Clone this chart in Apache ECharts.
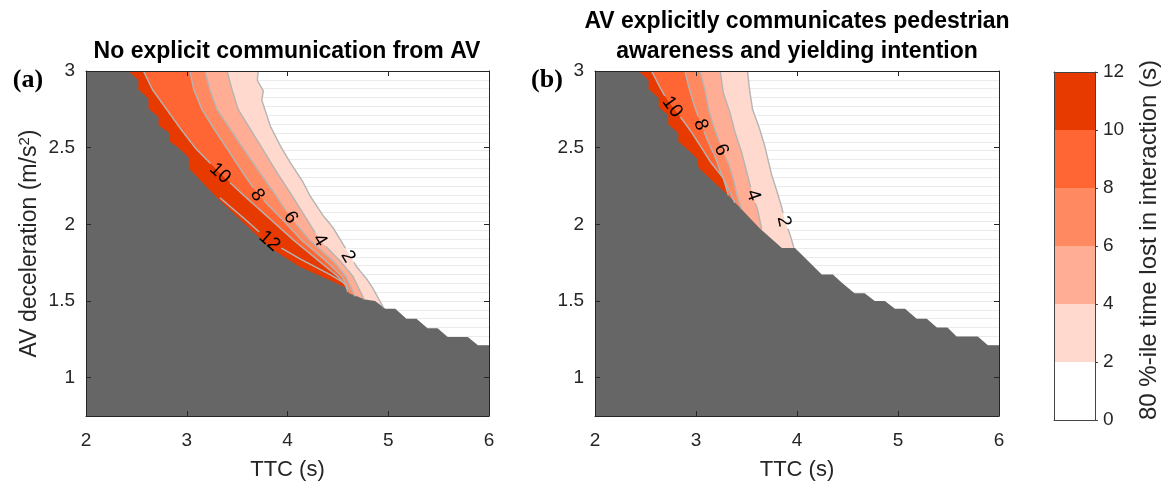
<!DOCTYPE html>
<html>
<head>
<meta charset="utf-8">
<script src="https://cdn.jsdelivr.net/npm/echarts@6/dist/echarts.min.js"></script>
<style>
html, body { margin: 0; padding: 0; background: #fff; }
#chart { width: 1166px; height: 486px; }
</style>
</head>
<body>
<div id="chart"></div>
<script>
// contour levels (s) and fill colours for the band above each level
var levels = [2, 4, 6, 8, 10, 12];
var bandColors = ['#FFD9CE', '#FFAD94', '#FF8A62', '#FF6633', '#E63A00'];
var barLevels = [0, 2, 4, 6, 8, 10];
var barColors = ['#FFFFFF', '#FFD9CE', '#FFAD94', '#FF8A62', '#FF6633', '#E63A00'];
var yTicks = [1, 1.5, 2, 2.5, 3];

//===== (a) no explicit communication =====
var grayA = [[2.42,3],[2.52,2.94],[2.52,2.88],[2.62,2.82],[2.62,2.755],[2.72,2.70],[2.72,2.647],[2.83,2.594],[2.83,2.54],[2.92,2.498],[3.02,2.434],[3.02,2.38],[3.03,2.36],[3.33,2.154],[3.58,2.00],[3.83,1.846],[4.12,1.724],[4.42,1.635],[4.57,1.59],[4.61,1.551],[4.77,1.51],[4.87,1.50],[4.97,1.45],[5.07,1.45],[5.18,1.385],[5.28,1.385],[5.39,1.322],[5.49,1.322],[5.59,1.265],[5.79,1.265],[5.89,1.212],[6,1.212]];
var lineA2 = [[3.71,3],[3.70,2.94],[3.76,2.87],[3.745,2.81],[3.83,2.64],[3.93,2.51],[4.03,2.40],[4.15,2.28],[4.22,2.19],[4.35,2.06],[4.45,1.98],[4.57,1.85],[4.69,1.72],[4.79,1.64],[4.85,1.58],[4.95,1.46]];
var lineA4 = [[3.40,3],[3.45,2.878],[3.51,2.75],[3.63,2.622],[3.75,2.494],[3.90,2.333],[4.04,2.192],[4.18,2.045],[4.32,1.897],[4.53,1.756],[4.65,1.66],[4.76,1.51]];
var lineA6 = [[3.18,3],[3.23,2.878],[3.30,2.75],[3.43,2.622],[3.56,2.494],[3.73,2.333],[3.88,2.192],[4.03,2.045],[4.22,1.897],[4.46,1.756],[4.58,1.66],[4.67,1.53]];
var lineA8 = [[3.03,3],[3.07,2.878],[3.15,2.75],[3.27,2.622],[3.40,2.494],[3.56,2.333],[3.71,2.192],[3.93,2.045],[4.14,1.897],[4.39,1.756],[4.54,1.66],[4.61,1.57]];
var lineA10 = [[2.57,3],[2.66,2.878],[2.80,2.75],[2.94,2.622],[3.09,2.494],[3.33,2.333],[3.56,2.192],[3.81,2.045],[4.06,1.897],[4.32,1.756],[4.50,1.66],[4.58,1.60]];
var lineA12 = [[3.33,2.173],[3.58,2.032],[3.82,1.891],[4.12,1.776],[4.42,1.673],[4.57,1.615],[4.60,1.558]];
var labelsA = [[10,3.33,2.333],[8,3.70,2.19],[6,4.03,2.045],[4,4.32,1.897],[2,4.60,1.79],[12,3.82,1.89]];

//===== (b) explicit communication =====
var grayB = [[2.43,3],[2.53,2.942],[2.53,2.883],[2.63,2.825],[2.63,2.765],[2.725,2.712],[2.725,2.652],[2.825,2.594],[2.825,2.54],[2.92,2.487],[3.02,2.423],[3.02,2.38],[3.04,2.359],[3.335,2.179],[3.63,1.974],[3.85,1.846],[3.98,1.846],[4.245,1.673],[4.355,1.673],[4.45,1.615],[4.57,1.551],[4.67,1.551],[4.77,1.50],[4.87,1.50],[4.97,1.449],[5.07,1.449],[5.185,1.385],[5.285,1.385],[5.385,1.327],[5.49,1.327],[5.58,1.269],[5.79,1.269],[5.89,1.212],[6,1.212]];
var lineB2 = [[3.51,3],[3.53,2.878],[3.56,2.75],[3.63,2.622],[3.68,2.513],[3.71,2.429],[3.75,2.321],[3.80,2.218],[3.85,2.109],[3.88,2.019],[3.93,1.936],[3.97,1.846]];
var lineB4 = [[3.24,3],[3.27,2.859],[3.335,2.731],[3.385,2.603],[3.45,2.474],[3.50,2.346],[3.56,2.192],[3.61,2.096],[3.65,1.97]];
var lineB6 = [[3.04,3],[3.09,2.872],[3.13,2.737],[3.19,2.609],[3.26,2.487],[3.325,2.391],[3.375,2.282],[3.41,2.179],[3.45,2.10]];
var lineB8 = [[2.89,3],[2.93,2.891],[2.98,2.782],[3.05,2.647],[3.13,2.526],[3.20,2.423],[3.25,2.327],[3.31,2.244],[3.385,2.14]];
var lineB10 = [[2.56,3],[2.64,2.897],[2.70,2.827],[2.77,2.763],[2.87,2.679],[2.96,2.596],[3.06,2.494],[3.14,2.41],[3.27,2.301],[3.32,2.19]];
var labelsB = [[10,2.765,2.765],[8,3.045,2.649],[6,3.25,2.485],[4,3.566,2.19],[2,3.87,2.02]];

var X_MIN = 2, X_MAX = 6, Y_MIN = 0.75, Y_MAX = 3;
var axisColor = '#262626';
var sans = 'Liberation Sans, Arial, sans-serif';

function bandSeries(ax, lines) {
    return {
        type: 'custom', xAxisIndex: ax, yAxisIndex: ax, z: 2, clip: true, silent: true,
        data: lines.map(function (l, i) { return [l[0][0], l[0][1], i]; }),
        renderItem: function (params, api) {
            var line = lines[params.dataIndex];
            var last = line[line.length - 1];
            var pts = line.concat([[last[0], Y_MIN], [X_MIN, Y_MIN], [X_MIN, Y_MAX]]);
            return {
                type: 'polygon',
                shape: { points: pts.map(function (p) { return api.coord(p); }) },
                style: { fill: bandColors[params.dataIndex] }
            };
        }
    };
}

function graySeries(ax, edge) {
    return {
        type: 'custom', xAxisIndex: ax, yAxisIndex: ax, z: 3, clip: true, silent: true,
        data: [[edge[0][0], edge[0][1]]],
        renderItem: function (params, api) {
            var pts = edge.concat([[X_MAX, Y_MIN], [X_MIN, Y_MIN], [X_MIN, Y_MAX]]);
            return {
                type: 'polygon',
                shape: { points: pts.map(function (p) { return api.coord(p); }) },
                style: { fill: '#666666' }
            };
        }
    };
}

// contour lines, broken where their labels sit (like MATLAB clabel)
function contourSeries(ax, lines, labels) {
    return {
        type: 'custom', xAxisIndex: ax, yAxisIndex: ax, z: 4, clip: true, silent: true,
        data: lines.map(function (l) { return [l[0][0], l[0][1]]; }),
        renderItem: function (params, api) {
            var lvl = levels[params.dataIndex];
            var pts = lines[params.dataIndex].map(function (p) { return api.coord(p); });
            var holes = labels.filter(function (l) { return l[0] === lvl; }).map(function (l) {
                var c = api.coord([l[1], l[2]]);
                return [c[0], c[1], String(l[0]).length > 1 ? 13 : 8];
            });
            var pieces = [], cur = [];
            for (var k = 0; k < pts.length - 1; k++) {
                var a = pts[k], b = pts[k + 1];
                var n = Math.max(1, Math.ceil(Math.sqrt((b[0] - a[0]) * (b[0] - a[0]) + (b[1] - a[1]) * (b[1] - a[1]))));
                for (var s = (k === 0 ? 0 : 1); s <= n; s++) {
                    var q = [a[0] + (b[0] - a[0]) * s / n, a[1] + (b[1] - a[1]) * s / n];
                    var hit = holes.some(function (h) {
                        return (q[0] - h[0]) * (q[0] - h[0]) + (q[1] - h[1]) * (q[1] - h[1]) < h[2] * h[2];
                    });
                    if (hit) { if (cur.length > 1) pieces.push(cur); cur = []; }
                    else cur.push(q);
                }
            }
            if (cur.length > 1) pieces.push(cur);
            return {
                type: 'group',
                children: pieces.map(function (pc) {
                    return { type: 'polyline', shape: { points: pc },
                             style: { stroke: '#b4b4b4', lineWidth: 1.4, fill: null } };
                })
            };
        }
    };
}

function labelSeries(ax, lines, labels) {
    return {
        type: 'custom', xAxisIndex: ax, yAxisIndex: ax, z: 5, clip: false, silent: true,
        data: labels.map(function (l) { return [l[1], l[2]]; }),
        renderItem: function (params, api) {
            var lab = labels[params.dataIndex];
            var line = lines[levels.indexOf(lab[0])];
            var p = api.coord([lab[1], lab[2]]);
            var best = 1e12, ang = 0;
            for (var k = 0; k < line.length - 1; k++) {
                var a = api.coord(line[k]), b = api.coord(line[k + 1]);
                var mx = (a[0] + b[0]) / 2, my = (a[1] + b[1]) / 2;
                var d = (mx - p[0]) * (mx - p[0]) + (my - p[1]) * (my - p[1]);
                if (d < best) { best = d; ang = Math.atan2(b[1] - a[1], b[0] - a[0]); }
            }
            return {
                type: 'text', x: p[0], y: p[1], rotation: -ang,
                style: {
                    text: String(lab[0]), fill: '#000', fontSize: 19, fontFamily: sans,
                    align: 'center', verticalAlign: 'middle',
                    textAlign: 'center', textVerticalAlign: 'middle'
                }
            };
        }
    };
}

function xAxisFor(grid, pos, withLabel) {
    return {
        type: 'value', gridIndex: grid, position: pos, min: X_MIN, max: X_MAX, interval: 1, z: 10,
        axisLine: { show: true, onZero: false, lineStyle: { color: axisColor, width: 1 } },
        axisTick: { show: true, inside: true, length: 5, lineStyle: { color: axisColor } },
        axisLabel: { show: withLabel, color: axisColor, fontSize: 19, fontFamily: sans, margin: 15 },
        splitLine: { show: false },
        name: withLabel ? 'TTC (s)' : '', nameLocation: 'middle', nameGap: 43,
        nameTextStyle: { color: axisColor, fontSize: 22, fontFamily: sans }
    };
}

function yAxisFor(grid, pos, withLabel, name) {
    return {
        type: 'value', gridIndex: grid, position: pos, min: Y_MIN, max: Y_MAX, interval: 0.25, z: 10,
        axisLine: { show: true, onZero: false, lineStyle: { color: axisColor, width: 1 } },
        axisTick: { show: true, inside: true, length: 5, customValues: yTicks, lineStyle: { color: axisColor } },
        axisLabel: { show: withLabel, customValues: yTicks, color: axisColor, fontSize: 19, fontFamily: sans, margin: 11 },
        splitLine: { show: false },
        name: name || '', nameLocation: 'middle', nameGap: 44,
        nameTextStyle: { color: axisColor, fontSize: 23, fontFamily: sans,
            rich: { sup: { fontSize: 15, fontFamily: sans, color: axisColor, verticalAlign: 'top', padding: [0, 0, 10, 0] } } }
    };
}

// faint horizontal cell edges seen in the white area
function faintAxis(grid) {
    return {
        type: 'value', gridIndex: grid, position: 'left', min: Y_MIN, max: Y_MAX, interval: 0.75 / 13, z: 0,
        axisLine: { show: false }, axisTick: { show: false }, axisLabel: { show: false },
        splitLine: { show: true, lineStyle: { color: '#ebebeb', width: 1 } }
    };
}

function barFrame(grid, pos, isX) {
    return { type: 'value', gridIndex: grid, position: pos, min: 0, max: isX ? 1 : 12, z: 10,
        axisLine: { show: true, onZero: false, lineStyle: { color: '#444', width: 1 } },
        axisTick: { show: false }, axisLabel: { show: false }, splitLine: { show: false } };
}

var linesA = [lineA2, lineA4, lineA6, lineA8, lineA10, lineA12];
var linesB = [lineB2, lineB4, lineB6, lineB8, lineB10];

var option = {
    animation: false,
    backgroundColor: '#ffffff',
    grid: [
        { left: 86, top: 71, width: 403, height: 351 },
        { left: 595, top: 71, width: 404, height: 351 },
        { left: 1054, top: 72, width: 41, height: 348 }
    ],
    xAxis: [
        xAxisFor(0, 'bottom', true),
        xAxisFor(1, 'bottom', true),
        barFrame(2, 'bottom', true),
        xAxisFor(0, 'top', false),
        xAxisFor(1, 'top', false),
        barFrame(2, 'top', true)
    ],
    yAxis: [
        yAxisFor(0, 'left', true, 'AV deceleration (m/s{sup|2})'),
        yAxisFor(1, 'left', true),
        { type: 'value', gridIndex: 2, position: 'right', min: 0, max: 12, interval: 2, z: 10,
          axisLine: { show: true, onZero: false, lineStyle: { color: '#444', width: 1 } },
          axisTick: { show: true, inside: false, length: 3, lineStyle: { color: '#444' } },
          axisLabel: { color: axisColor, fontSize: 19, fontFamily: sans, margin: 8 },
          splitLine: { show: false } },
        yAxisFor(0, 'right', false),
        yAxisFor(1, 'right', false),
        barFrame(2, 'left', false),
        faintAxis(0),
        faintAxis(1)
    ],
    graphic: [
        { type: 'text', x: 287, y: 52, style: { text: 'No explicit communication from AV', fill: '#000',
          font: 'bold 23px ' + sans, textAlign: 'center', textVerticalAlign: 'middle', align: 'center', verticalAlign: 'middle' } },
        { type: 'text', x: 797, y: 37, style: { text: 'AV explicitly communicates pedestrian\nawareness and yielding intention', fill: '#000',
          font: 'bold 23px ' + sans, lineHeight: 30, textAlign: 'center', textVerticalAlign: 'middle', align: 'center', verticalAlign: 'middle' } },
        { type: 'text', x: 28, y: 80, style: { text: '(a)', fill: '#000',
          font: 'bold 26px Liberation Serif, Times New Roman, serif', textAlign: 'center', textVerticalAlign: 'middle', align: 'center', verticalAlign: 'middle' } },
        { type: 'text', x: 547, y: 80, style: { text: '(b)', fill: '#000',
          font: 'bold 26px Liberation Serif, Times New Roman, serif', textAlign: 'center', textVerticalAlign: 'middle', align: 'center', verticalAlign: 'middle' } },
        { type: 'text', x: 1149, y: 240, rotation: Math.PI / 2, style: { text: '80 %-ile time lost in interaction (s)', fill: axisColor,
          font: '24px ' + sans, textAlign: 'center', textVerticalAlign: 'middle', align: 'center', verticalAlign: 'middle' } }
    ],
    series: [
        bandSeries(0, [lineA2, lineA4, lineA6, lineA8, lineA10]),
        graySeries(0, grayA),
        contourSeries(0, linesA, labelsA),
        labelSeries(0, linesA, labelsA),
        bandSeries(1, [lineB2, lineB4, lineB6, lineB8, lineB10]),
        graySeries(1, grayB),
        contourSeries(1, linesB, labelsB),
        labelSeries(1, linesB, labelsB),
        {
            type: 'custom', xAxisIndex: 2, yAxisIndex: 2, z: 2, silent: true,
            data: barLevels.map(function (v) { return [0.5, v]; }),
            renderItem: function (params, api) {
                var v = barLevels[params.dataIndex];
                var p0 = api.coord([0, v + 2]), p1 = api.coord([1, v]);
                return { type: 'rect', shape: { x: p0[0], y: p0[1], width: p1[0] - p0[0], height: p1[1] - p0[1] },
                         style: { fill: barColors[params.dataIndex] } };
            }
        }
    ]
};

var chart = echarts.init(document.getElementById('chart'));
chart.setOption(option);
</script>
</body>
</html>
